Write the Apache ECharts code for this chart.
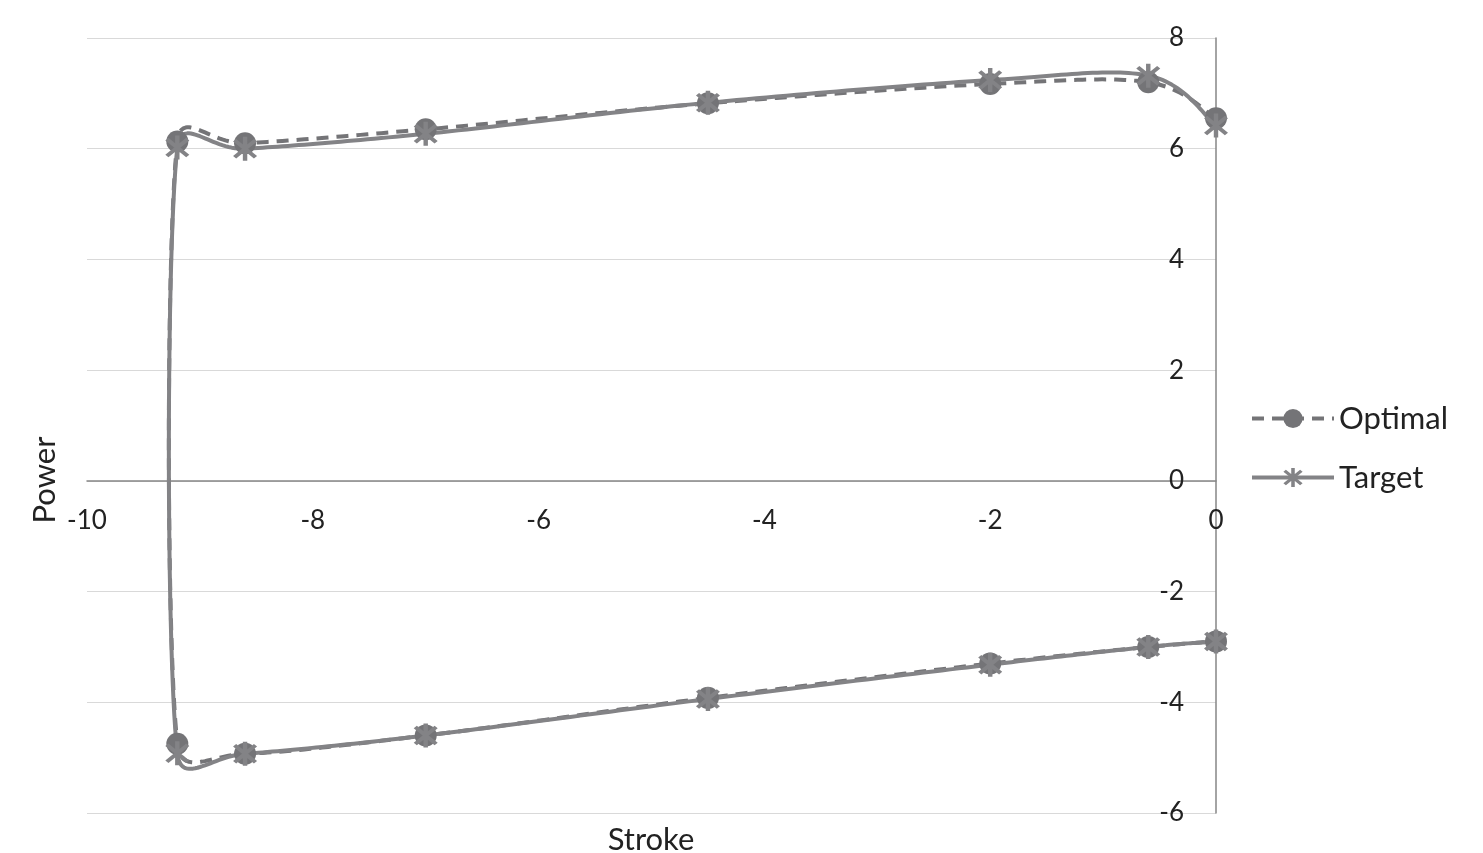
<!DOCTYPE html>
<html>
<head>
<meta charset="utf-8">
<script src="https://cdn.jsdelivr.net/npm/echarts@6/dist/echarts.min.js"></script>
<style>
html,body{margin:0;padding:0;background:#fff;}
#c{width:1483px;height:853px;}
</style>
</head>
<body>
<div id="c"></div>
<script>
// Data
const seriesNames = ['Optimal', 'Target'];
const strokeOptimal = [0, -0.6, -2, -4.5, -7, -8.6, -9.2, -9.2, -8.6, -7, -4.5, -2, -0.6, 0];
const powerOptimal  = [6.55, 7.2, 7.17, 6.82, 6.35, 6.1, 6.13, -4.75, -4.93, -4.6, -3.92, -3.3, -3.0, -2.9];
const strokeTarget  = [0, -0.6, -2, -4.5, -7, -8.6, -9.2, -9.2, -8.6, -7, -4.5, -2, -0.6, 0];
const powerTarget   = [6.42, 7.32, 7.24, 6.83, 6.27, 6.0, 6.02, -4.92, -4.93, -4.6, -3.94, -3.32, -3.0, -2.9];
const xTitle = 'Stroke';
const yTitle = 'Power';

const zip = (xs, ys) => xs.map((x, i) => [x, ys[i]]);
const FONT = 'Lato';
const C_OPT = '#747477';
const C_TGT = '#838386';
const DASH = [12, 8];
const asterisk = 'path://M-1.5,10 L1.5,10 L1.5,-10 L-1.5,-10 Z M6.01,8.13 L8.13,6.01 L-6.01,-8.13 L-8.13,-6.01 Z M8.13,-6.01 L6.01,-8.13 L-8.13,6.01 L-6.01,8.13 Z';

// Spreadsheet-style smoothed curve (Bezier, tangent/6, clamped to half segment) in pixel space
function smoothPoints(p) {
  const n = p.length, out = [];
  const tan = (i) => {
    const a = p[Math.max(i - 1, 0)], b = p[Math.min(i + 1, n - 1)];
    return [(b[0] - a[0]) / 6, (b[1] - a[1]) / 6];
  };
  const clamp = (v, maxLen) => {
    const l = Math.hypot(v[0], v[1]);
    if (l > maxLen && l > 0) { const s = maxLen / l; return [v[0] * s, v[1] * s]; }
    return v;
  };
  out.push(p[0]);
  for (let i = 0; i < n - 1; i++) {
    const a = p[i], b = p[i + 1];
    const segLen = Math.hypot(b[0] - a[0], b[1] - a[1]);
    const t0 = clamp(tan(i), segLen * 0.5), t1 = clamp(tan(i + 1), segLen * 0.5);
    const c1 = [a[0] + t0[0], a[1] + t0[1]], c2 = [b[0] - t1[0], b[1] - t1[1]];
    const N = 30;
    for (let k = 1; k <= N; k++) {
      const t = k / N, u = 1 - t;
      out.push([
        u*u*u*a[0] + 3*u*u*t*c1[0] + 3*u*t*t*c2[0] + t*t*t*b[0],
        u*u*u*a[1] + 3*u*u*t*c1[1] + 3*u*t*t*c2[1] + t*t*t*b[1]
      ]);
    }
  }
  return out;
}

function curveSeries(name, xs, ys, color, dash, z) {
  return {
    name: name,
    type: 'custom',
    data: zip(xs, ys),
    encode: { x: 0, y: 1 },
    z: z,
    silent: true,
    renderItem: function (params, api) {
      if (params.dataIndex !== 0) return { type: 'group', children: [] };
      const pts = xs.map((x, i) => api.coord([x, ys[i]]));
      return {
        type: 'polyline',
        shape: { points: smoothPoints(pts) },
        style: { stroke: color, lineWidth: 4, fill: null, lineDash: dash || null, lineJoin: 'round' }
      };
    }
  };
}

const chart = echarts.init(document.getElementById('c'));
chart.setOption({
  animation: false,
  backgroundColor: '#ffffff',
  grid: { left: 87, right: 267, top: 38, bottom: 40, containLabel: false, outerBoundsMode: 'none' },
  legend: {
    orient: 'vertical',
    left: 1245,
    top: 398,
    itemWidth: 82,
    itemHeight: 24,
    itemGap: 28,
    textStyle: { fontFamily: FONT, fontSize: 31, color: '#222222' },
    data: [
      { name: seriesNames[0], lineStyle: { opacity: 1, width: 4, type: DASH, color: C_OPT } },
      { name: seriesNames[1], lineStyle: { opacity: 1, width: 4, type: 'solid', color: C_TGT } }
    ]
  },
  xAxis: {
    type: 'value',
    min: -10, max: 0, interval: 2,
    position: 'bottom',
    offset: -332.1,
    axisLine: { show: true, onZero: false, lineStyle: { color: '#868686', width: 1.5 } },
    axisTick: { show: false },
    splitLine: { show: false },
    axisLabel: { fontFamily: FONT, fontSize: 26, color: '#222222', margin: 27 }
  },
  yAxis: {
    type: 'value',
    position: 'right',
    min: -6, max: 8, interval: 2,
    axisLine: { show: true, onZero: false, lineStyle: { color: '#868686', width: 1.5 } },
    axisTick: { show: false },
    splitLine: { show: true, lineStyle: { color: '#d9d9d9', width: 1.2 } },
    axisLabel: { inside: true, fontFamily: FONT, fontSize: 26, color: '#222222', margin: 32 }
  },
  graphic: [
    { type: 'text', x: 651, y: 840, style: { text: xTitle, font: '31px ' + FONT, fill: '#222222', align: 'center', verticalAlign: 'middle' } },
    { type: 'text', x: 45, y: 480, rotation: Math.PI / 2, style: { text: yTitle, font: '31px ' + FONT, fill: '#222222', align: 'center', verticalAlign: 'middle' } }
  ],
  series: [
    {
      name: seriesNames[0],
      type: 'line',
      data: zip(strokeOptimal, powerOptimal),
      smooth: false,
      symbol: 'circle',
      symbolSize: 22,
      showAllSymbol: true,
      color: C_OPT,
      lineStyle: { color: C_OPT, width: 4, type: DASH, opacity: 0 },
      itemStyle: { color: C_OPT },
      z: 4
    },
    {
      name: seriesNames[1],
      type: 'line',
      data: zip(strokeTarget, powerTarget),
      smooth: false,
      symbol: asterisk,
      symbolSize: 24,
      showAllSymbol: true,
      color: C_TGT,
      lineStyle: { color: C_TGT, width: 4, opacity: 0 },
      itemStyle: { color: C_TGT },
      z: 5
    },
    curveSeries(seriesNames[0], strokeOptimal, powerOptimal, C_OPT, DASH, 2),
    curveSeries(seriesNames[1], strokeTarget, powerTarget, C_TGT, null, 3)
  ]
});
</script>
</body>
</html>
